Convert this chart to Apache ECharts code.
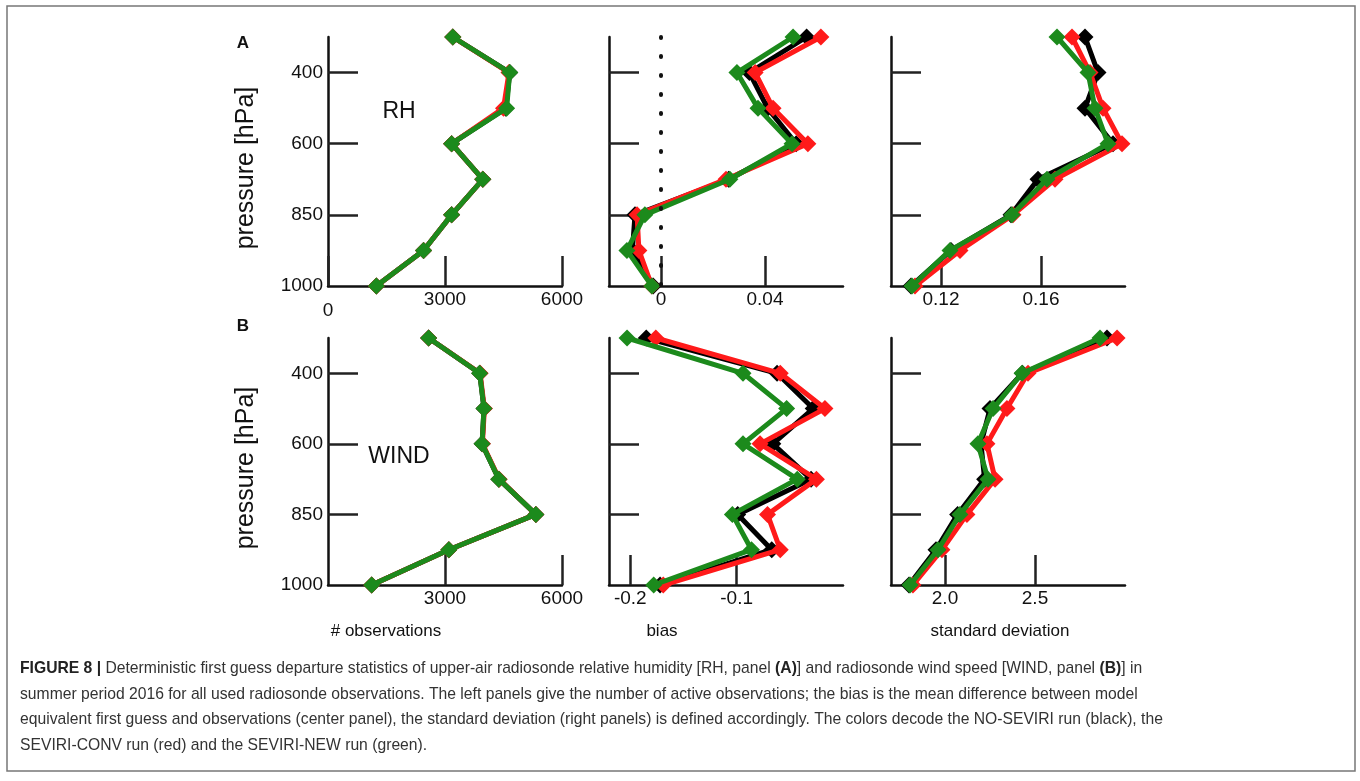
<!DOCTYPE html>
<html><head><meta charset="utf-8">
<script src="https://cdn.jsdelivr.net/npm/echarts@6/dist/echarts.min.js"></script>
<style>html,body{margin:0;padding:0;background:#fff}#c{width:1360px;height:781px}</style>
</head><body><div id="c"></div>
<script>
// pressure levels (equally spaced on the vertical axis)
const levels = ['300','400','500','600','700','850','925','1000'];
const yLabelLevels = ['400','600','850','1000'];
const yTickLevels = ['400','600','850'];

// Panel A: RH
const rhObsBlack  = [3200,4660,4560,3170,3970,3170,2450,1240];
const rhObsRed    = [3200,4640,4500,3170,3970,3170,2450,1240];
const rhObsGreen  = [3200,4660,4580,3170,3970,3170,2450,1240];
const rhBiasBlack = [0.056,0.034,0.041,0.052,0.026,-0.010,-0.011,-0.003];
const rhBiasRed   = [0.0615,0.0362,0.0431,0.0565,0.025,-0.0092,-0.0085,-0.0035];
const rhBiasGreen = [0.0508,0.0292,0.0373,0.0504,0.0265,-0.0062,-0.0131,-0.0035];
const rhStdBlack  = [0.1776,0.1828,0.1776,0.1888,0.1588,0.148,0.124,0.108];
const rhStdRed    = [0.1724,0.1796,0.1848,0.1924,0.1656,0.1488,0.1276,0.1096];
const rhStdGreen  = [0.1664,0.1788,0.1816,0.1868,0.1624,0.1484,0.1236,0.1084];

// Panel B: WIND
const windObsBlack  = [2580,3890,4000,3950,4380,5330,3100,1120];
const windObsRed    = [2580,3900,4010,3960,4390,5330,3100,1120];
const windObsGreen  = [2580,3890,4000,3950,4380,5330,3100,1120];
const windBiasBlack = [-0.185,-0.062,-0.028,-0.066,-0.030,-0.099,-0.067,-0.172];
const windBiasRed   = [-0.176,-0.059,-0.017,-0.078,-0.025,-0.071,-0.059,-0.169];
const windBiasGreen = [-0.203,-0.094,-0.053,-0.094,-0.043,-0.104,-0.086,-0.178];
const windStdBlack  = [2.90,2.43,2.25,2.20,2.22,2.07,1.95,1.80];
const windStdRed    = [2.956,2.461,2.344,2.233,2.278,2.122,1.983,1.822];
const windStdGreen  = [2.861,2.428,2.267,2.183,2.239,2.083,1.961,1.806];

// x tick labels
const obsTicksA = [0,3000,6000];
const obsTicksB = [3000,6000];
const rhBiasTicks = [0,0.04];
const rhStdTicks = [0.12,0.16];
const windBiasTicks = [-0.2,-0.1];
const windStdTicks = [2.0,2.5];

const axisTitles = ['# observations','bias','standard deviation'];
const panelNames = ['RH','WIND'];
const captionLines = [
  '{b|FIGURE 8 |} Deterministic first guess departure statistics of upper-air radiosonde relative humidity [RH, panel {b|(A)}] and radiosonde wind speed [WIND, panel {b|(B)}] in',
  'summer period 2016 for all used radiosonde observations. The left panels give the number of active observations; the bias is the mean difference between model',
  'equivalent first guess and observations (center panel), the standard deviation (right panels) is defined accordingly. The colors decode the NO-SEVIRI run (black), the',
  'SEVIRI-CONV run (red) and the SEVIRI-NEW run (green).'
];

const FONT = "'Liberation Sans', Arial, Helvetica, sans-serif";
const C_BLACK = '#000000', C_RED = '#ff1a1a', C_GREEN = '#1c8a1c';

const lefts = [328, 609, 891];
const tops = [37, 338];
const heights = [249, 247];
const W = 234;

const grids = [];
for (let r = 0; r < 2; r++) for (let c = 0; c < 3; c++)
  grids.push({left: lefts[c], top: tops[r], width: W, height: heights[r], containLabel: false});

const xRanges = [
  {min:0, max:6000, ticks: obsTicksA, fmt: v => v === 0 ? '{low|0}' : String(v)},
  {min:-0.02, max:0.07, ticks: rhBiasTicks, fmt: v => String(v)},
  {min:0.10, max:0.1936, ticks: rhStdTicks, fmt: v => v.toFixed(2)},
  {min:0, max:6000, ticks: obsTicksB, fmt: v => String(v)},
  {min:-0.22, max:0, ticks: windBiasTicks, fmt: v => v.toFixed(1)},
  {min:1.7, max:3.0, ticks: windStdTicks, fmt: v => v.toFixed(1)}
];

const axisLine = {show: true, onZero: false, lineStyle: {color: '#111', width: 2.5}};
const xAxes = xRanges.map((r, i) => ({
  type: 'value', gridIndex: i, min: r.min, max: r.max, position: 'bottom',
  axisLine: axisLine,
  splitLine: {show: false},
  axisTick: {show: true, inside: true, length: 30, customValues: r.ticks, lineStyle: {color: '#222', width: 2.5}},
  axisLabel: {show: true, customValues: r.ticks, formatter: r.fmt, margin: 4,
    fontSize: 19, color: '#111', fontFamily: FONT,
    rich: {low: {fontSize: 19, color: '#111', fontFamily: FONT, padding: [11, 0, 0, 0]}}}
}));

const yIdx = v => levels.indexOf(v);
const yAxes = grids.map((g, i) => ({
  type: 'value', gridIndex: i, min: 0, max: levels.length - 1, inverse: true, position: 'left',
  axisLine: axisLine,
  splitLine: {show: false},
  axisTick: {show: true, inside: true, length: 30, customValues: yTickLevels.map(yIdx), lineStyle: {color: '#222', width: 2.5}},
  axisLabel: {show: i % 3 === 0, customValues: yLabelLevels.map(yIdx), formatter: v => levels[v], margin: 5,
    fontSize: 19, color: '#111', fontFamily: FONT}
}));

const panelData = [
  [rhObsBlack, rhObsRed, rhObsGreen],
  [rhBiasBlack, rhBiasRed, rhBiasGreen],
  [rhStdBlack, rhStdRed, rhStdGreen],
  [windObsBlack, windObsRed, windObsGreen],
  [windBiasBlack, windBiasRed, windBiasGreen],
  [windStdBlack, windStdRed, windStdGreen]
];
const runNames = ['NO-SEVIRI', 'SEVIRI-CONV', 'SEVIRI-NEW'];
const runColors = [C_BLACK, C_RED, C_GREEN];

const series = [];
panelData.forEach((runs, p) => {
  runs.forEach((vals, k) => {
    const s = {
      name: runNames[k], type: 'line', xAxisIndex: p, yAxisIndex: p,
      data: vals.map((v, i) => [v, i]),
      symbol: 'diamond', symbolSize: 17,
      lineStyle: {color: runColors[k], width: 5},
      itemStyle: {color: runColors[k]},
      z: 2 + k, animation: false, silent: true
    };
    if (p === 1 && k === 0) {
      s.markLine = {
        silent: true, symbol: ['none', 'none'], label: {show: false},
        lineStyle: {color: '#111', type: [1, 18], width: 4, cap: 'round'},
        data: [{xAxis: 0}], animation: false
      };
    }
    series.push(s);
  });
});

const txt = (text, x, y, size, extra) => Object.assign({
  type: 'text', x: x, y: y, silent: true,
  style: Object.assign({text: text, fontSize: size, fontFamily: FONT, fill: '#111', align: 'center', verticalAlign: 'middle'}, (extra && extra.style) || {})
}, extra && extra.el || {});

const graphic = [
  {type: 'rect', silent: true, shape: {x: 7, y: 6, width: 1348, height: 765}, style: {fill: 'none', stroke: '#777', lineWidth: 1.5}},
  txt('A', 243, 43, 17, {style: {fontWeight: 'bold'}}),
  txt('B', 243, 326, 17, {style: {fontWeight: 'bold'}}),
  txt('pressure [hPa]', 246, 168, 25, {el: {rotation: Math.PI / 2}}),
  txt('pressure [hPa]', 246, 468, 25, {el: {rotation: Math.PI / 2}}),
  txt(panelNames[0], 399, 112, 23),
  txt(panelNames[1], 399, 457, 23),
  txt(axisTitles[0], 386, 631, 17),
  txt(axisTitles[1], 662, 631, 17),
  txt(axisTitles[2], 1000, 631, 17),
  {type: 'text', x: 20, y: 656, silent: true,
   style: {text: captionLines.join('\n'), fontSize: 15.7, fontFamily: FONT, fill: '#333', lineHeight: 25.5,
     align: 'left', verticalAlign: 'top',
     rich: {b: {fontWeight: 'bold', fontSize: 15.7, fontFamily: FONT, fill: '#222', lineHeight: 25.5}}}}
];

const chart = echarts.init(document.getElementById('c'), null, {renderer: 'canvas'});
chart.setOption({
  animation: false,
  backgroundColor: '#fff',
  textStyle: {fontFamily: FONT},
  grid: grids, xAxis: xAxes, yAxis: yAxes, series: series, graphic: graphic
});
</script></body></html>
